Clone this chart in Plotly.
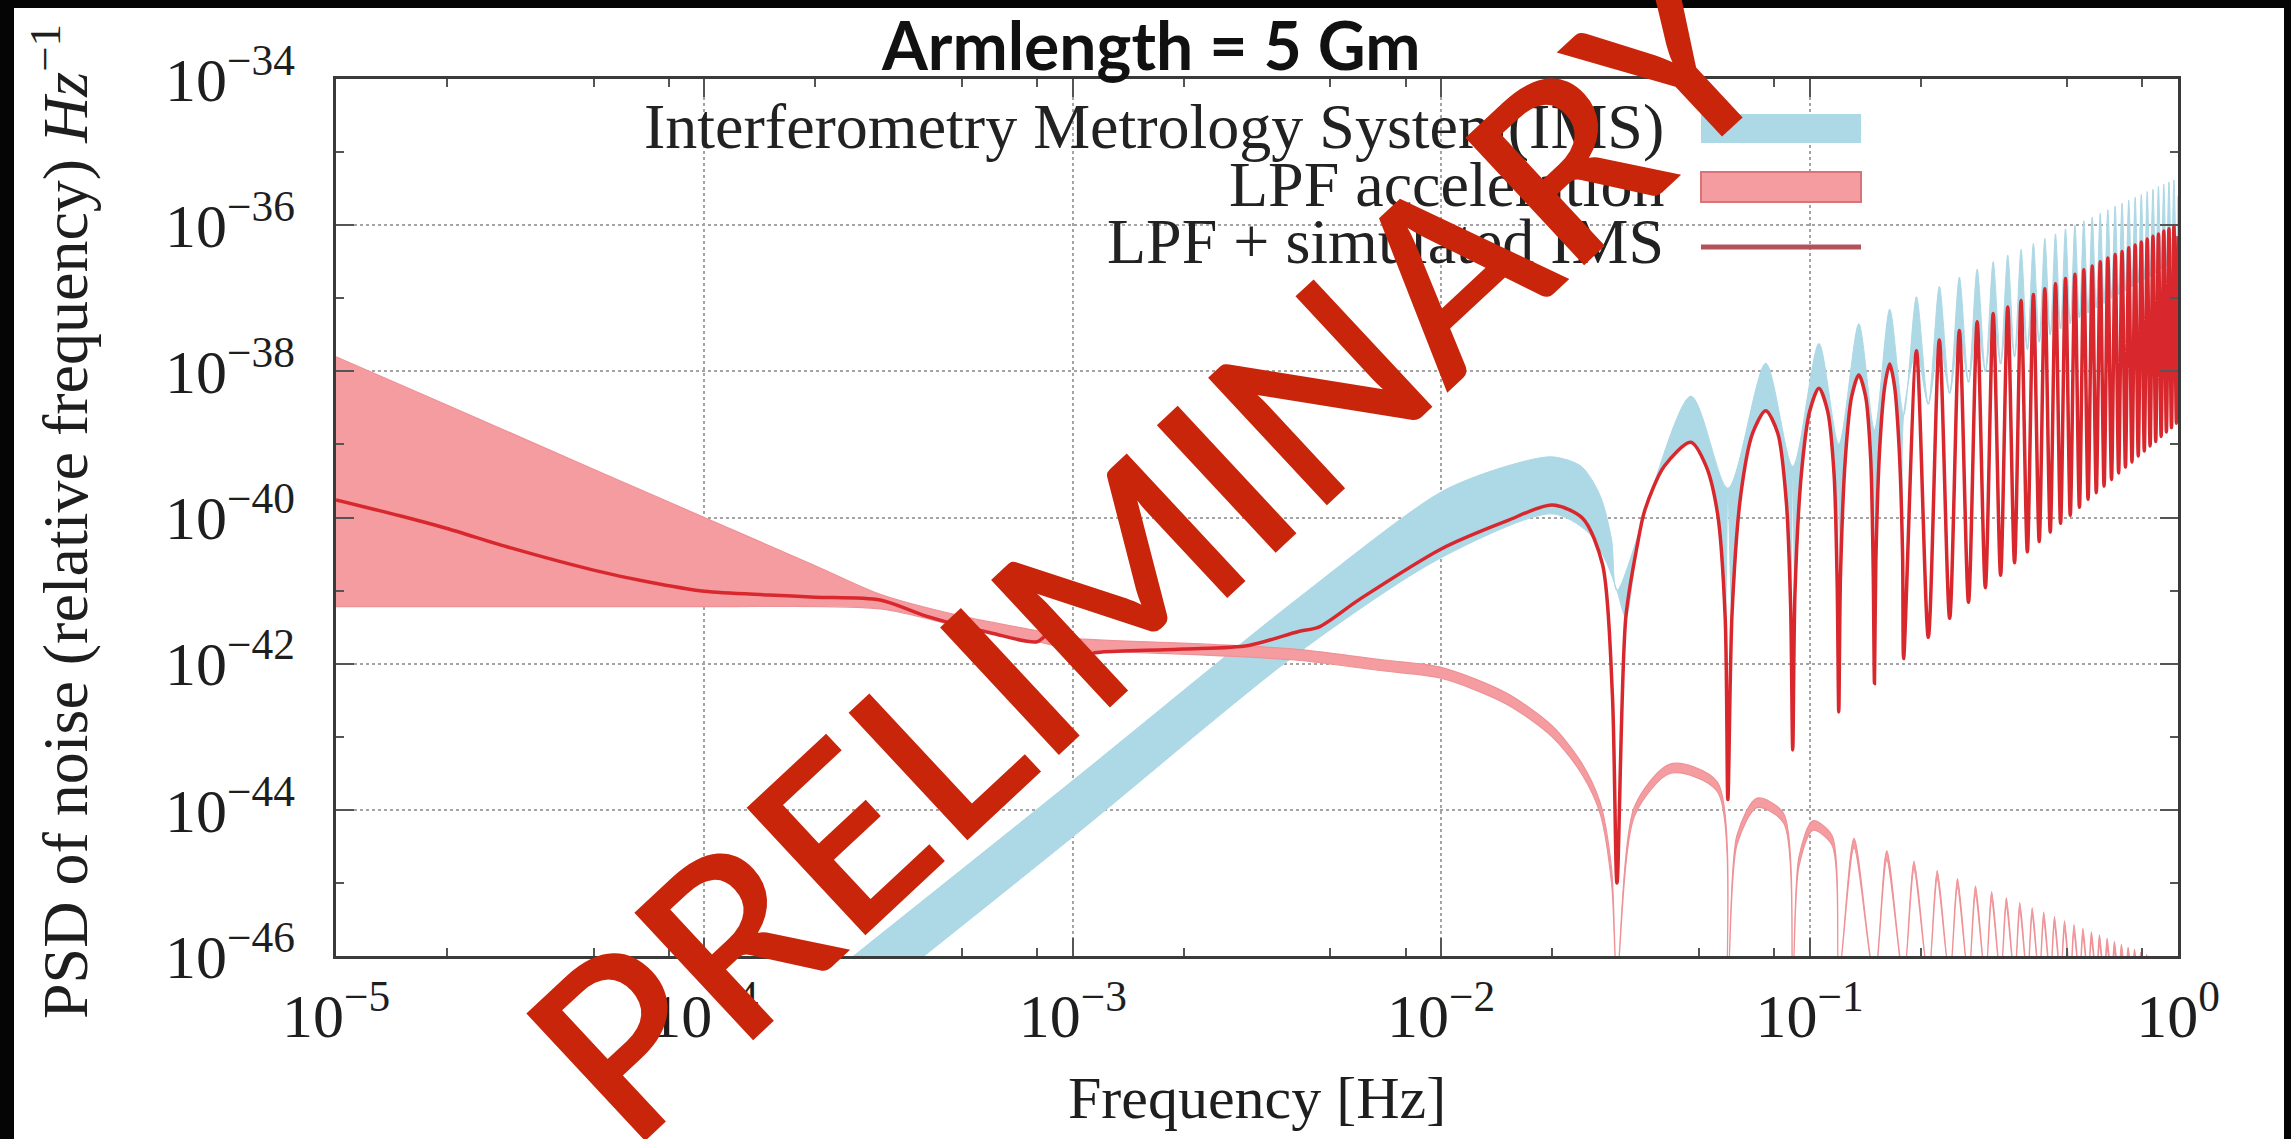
import plotly.graph_objects as go

# ---------------- canvas / layout geometry (pixels) ----------------
W, H = 2291, 1139
ML, MR, MT, MB = 336, 113, 79, 183
PW, PH = W - ML - MR, H - MT - MB


def px_x(px):
    return (px - ML) / PW


def px_y(py):
    return (H - MB - py) / PH


# ---------------- axis ticks ----------------
X_TICK_VALS = [1e-5, 1e-4, 1e-3, 1e-2, 1e-1, 1e0]
X_TICK_TEXT = ["10<sup>−5</sup>", "10<sup>−4</sup>", "10<sup>−3</sup>",
               "10<sup>−2</sup>", "10<sup>−1</sup>", "10<sup>0</sup>"]
X_MINOR_VALS = [2e-5, 5e-5, 8e-5, 2e-4, 5e-4, 8e-4, 2e-3, 5e-3, 8e-3,
                2e-2, 5e-2, 8e-2, 2e-1, 5e-1, 8e-1]
Y_TICK_VALS = [1e-46, 1e-44, 1e-42, 1e-40, 1e-38, 1e-36, 1e-34]
Y_TICK_TEXT = ["10<sup>−46</sup>", "10<sup>−44</sup>", "10<sup>−42</sup>",
               "10<sup>−40</sup>", "10<sup>−38</sup>", "10<sup>−36</sup>",
               "10<sup>−34</sup>"]
Y_MINOR_VALS = [1e-45, 1e-43, 1e-41, 1e-39, 1e-37, 1e-35]

# ---------------- arm-response nulls (Hz) ----------------
NULL_F = [0.03, 0.06, 0.09, 0.12, 0.15, 0.18, 0.21, 0.24, 0.27, 0.30, 0.33,
          0.36, 0.39, 0.42, 0.45, 0.48, 0.51, 0.54, 0.57, 0.60, 0.63, 0.66,
          0.69, 0.72, 0.75, 0.78, 0.81, 0.84, 0.87, 0.90, 0.93, 0.96, 0.99]
LOBE_PEAK_F = [0.0476, 0.076, 0.106, 0.136, 0.165, 0.195, 0.225, 0.255,
               0.285, 0.315, 0.345, 0.375, 0.405, 0.435, 0.465, 0.495, 0.525,
               0.555, 0.585, 0.615, 0.645, 0.675, 0.705, 0.735, 0.765, 0.795,
               0.825, 0.855, 0.885, 0.915, 0.945, 0.975]

# ---------------- LPF + simulated IMS (log10 PSD) ----------------
RED_LOW_F = [1e-5, 1.5e-5, 2e-5, 3e-5, 5e-5, 7e-5, 1e-4, 1.5e-4, 2e-4, 3e-4,
             4e-4, 6e-4, 8e-4, 8.8e-4, 9.5e-4, 1.02e-3, 1.2e-3, 2e-3, 3e-3,
             4.1e-3, 4.65e-3, 6e-3, 1e-2, 1.5e-2, 2e-2, 2.42e-2, 2.74e-2,
             2.915e-2]
RED_LOW_LOG = [-39.76, -39.98, -40.15, -40.42, -40.72, -40.88, -41.01, -41.06,
               -41.09, -41.13, -41.35, -41.58, -41.70, -41.55, -41.72, -41.87,
               -41.84, -41.80, -41.75, -41.56, -41.50, -41.12, -40.43, -40.05,
               -39.83, -40.01, -40.64, -42.42]
RED_NULL_LOG = [-45.00, -43.86, -43.18, -42.66, -42.27, -41.93, -41.64, -41.38,
                -41.16, -40.96, -40.79, -40.62, -40.47, -40.33, -40.20, -40.08,
                -39.97, -39.86, -39.75, -39.66, -39.57, -39.48, -39.39, -39.31,
                -39.24, -39.16, -39.09, -39.02, -38.96, -38.89, -38.83, -38.77,
                -38.71]
RED_PEAK_LOG = [-38.97, -38.54, -38.23, -38.05, -37.90, -37.72, -37.57, -37.44,
                -37.32, -37.21, -37.12, -37.03, -36.95, -36.87, -36.80, -36.73,
                -36.67, -36.61, -36.56, -36.50, -36.45, -36.40, -36.36, -36.31,
                -36.27, -36.23, -36.19, -36.15, -36.12, -36.08, -36.05, -36.01]
RED_SHOULDER_F = [0.0317, 0.0340, 0.0357, 0.0403, 0.0524, 0.0563, 0.0590,
                  0.0616, 0.0650, 0.0700, 0.0820, 0.0865, 0.0888,
                  0.0913, 0.0950, 0.1000, 0.1120, 0.1165, 0.1188,
                  0.1213, 0.1250, 0.1300, 0.1420, 0.1465, 0.1488,
                  0.1513, 0.1550, 0.1600, 0.1700, 0.1750, 0.1788]
RED_SHOULDER_LOG = [-41.37, -40.40, -39.90, -39.30, -39.30, -39.96, -41.37,
                    -41.30, -39.70, -38.85, -38.85, -39.80, -41.20,
                    -41.00, -39.40, -38.55, -38.55, -39.40, -40.90,
                    -40.80, -39.20, -38.35, -38.35, -39.20, -40.70,
                    -40.60, -39.05, -38.20, -38.20, -39.05, -40.50]
RED_END = (1.0, -36.15)

# ---------------- IMS band (log10 PSD) ----------------
BLUE_UP_F = [1.4e-4, 1e-3, 4.1e-3, 1e-2, 1.5e-2, 2e-2, 2.4e-2, 2.7e-2, 2.9e-2]
BLUE_UP_LOG = [-47.04, -43.60, -41.10, -39.65, -39.30, -39.17, -39.30, -39.70,
               -40.30]
BLUE_LO_F = [2.1e-4, 1e-3, 4.1e-3, 1e-2, 2e-2, 2.5e-2, 2.8e-2]
BLUE_LO_LOG = [-47.10, -44.37, -41.85, -40.55, -39.95, -40.20, -40.60]
BLUE_PEAK_LOG = [-38.34, -37.89, -37.62, -37.35, -37.15, -36.98, -36.84,
                 -36.71, -36.60, -36.50, -36.41, -36.33, -36.25, -36.18,
                 -36.12, -36.05, -36.00, -35.94, -35.89, -35.84, -35.79,
                 -35.74, -35.70, -35.66, -35.62, -35.58, -35.54, -35.51,
                 -35.47, -35.44, -35.41, -35.38]
BLUE_CUSP_LOG = [-41.00, -39.60, -39.30, -39.00, -38.80, -38.60, -38.45,
                 -38.30, -38.15, -38.00, -37.90, -37.80, -37.70, -37.60,
                 -37.50, -37.42, -37.35, -37.27, -37.20, -37.13, -37.07,
                 -37.00, -36.95, -36.90, -36.84, -36.79, -36.74, -36.70,
                 -36.65, -36.60, -36.56, -36.52, -36.48]
BLUE_END = (1.0, -35.60)

# ---------------- LPF acceleration band (log10 PSD) ----------------
PINK_UP_F = [1e-5, 2e-5, 5e-5, 1e-4, 2e-4, 3e-4, 5e-4, 8e-4, 1e-3, 2e-3, 4e-3,
             7e-3, 1e-2, 1.5e-2, 2e-2, 2.4e-2, 2.7e-2, 2.9e-2]
PINK_UP_LOG = [-37.80, -38.46, -39.34, -40.00, -40.66, -41.05, -41.35, -41.55,
               -41.65, -41.72, -41.80, -41.95, -42.05, -42.40, -42.85, -43.35,
               -43.90, -44.80]
PINK_LO_F = [1e-5, 1e-4, 3e-4, 5e-4, 8e-4, 1e-3, 2e-3, 4e-3, 7e-3, 1e-2,
             1.5e-2, 2e-2, 2.4e-2, 2.7e-2, 2.9e-2]
PINK_LO_LOG = [-41.22, -41.22, -41.25, -41.50, -41.70, -41.80, -41.87, -41.95,
               -42.10, -42.20, -42.55, -43.00, -43.50, -44.05, -45.00]
PINK_PEAK_F = [0.042, 0.072, 0.102, 0.132, 0.162, 0.192, 0.222, 0.252, 0.282,
               0.312, 0.342, 0.372, 0.402, 0.432, 0.462, 0.492, 0.522, 0.552,
               0.582, 0.612, 0.642, 0.672, 0.702, 0.732, 0.762, 0.792, 0.822]
PINK_PEAK_LOG = [-43.37, -43.84, -44.15, -44.39, -44.56, -44.70, -44.83,
                 -44.94, -45.04, -45.12, -45.20, -45.27, -45.34, -45.40,
                 -45.46, -45.52, -45.57, -45.62, -45.67, -45.71, -45.76,
                 -45.80, -45.84, -45.88, -45.91, -45.95, -45.98]
PINK_PEAK_LO_LOG = [-43.50, -43.97, -44.28, -44.52, -44.69, -44.83, -44.96,
                    -45.07, -45.17, -45.25, -45.33, -45.40, -45.47, -45.53,
                    -45.59, -45.65, -45.70, -45.75, -45.80, -45.84, -45.89,
                    -45.93, -45.97, -46.01, -46.04, -46.08, -46.11]
PINK_SHOULDER_F = [0.0335, 0.0562, 0.0635, 0.0850, 0.0935, 0.1150]
PINK_SHOULDER_LOG = [-43.95, -43.62, -44.35, -44.05, -44.65, -44.35]
PINK_SHOULDER_LO_LOG = [-44.08, -43.75, -44.48, -44.18, -44.78, -44.48]
PINK_NULL_LOG = -46.3  # nulls dip just below the bottom of the axis

# ---------------- colours ----------------
BLUE = "#add8e6"
PINK = "#f59ca1"
PINK_EDGE = "#ee9297"
RED = "#d8282e"
WATERMARK = "#c8250b"
SERIF = "Liberation Serif"


def to_lin(logs):
    return [10.0 ** v for v in logs]


# ---- LPF + simulated IMS line: smooth part, then lobes between nulls ----
red_pts = list(zip(RED_LOW_F, RED_LOW_LOG))
red_pts += list(zip(NULL_F, RED_NULL_LOG))
red_pts += list(zip(LOBE_PEAK_F, RED_PEAK_LOG))
red_pts += list(zip(RED_SHOULDER_F, RED_SHOULDER_LOG))
red_pts.append(RED_END)
red_pts.sort()
red_x = [p[0] for p in red_pts]
red_y = to_lin([p[1] for p in red_pts])

# ---- IMS band outline: upper edge forward, lower edge (under the red
# line) backward; the two edges pinch together at each null ----
blue_upper = list(zip(BLUE_UP_F, BLUE_UP_LOG))
blue_lower = list(zip(BLUE_LO_F, BLUE_LO_LOG))
for i, f0 in enumerate(NULL_F):
    blue_upper.append((f0, BLUE_CUSP_LOG[i]))
    blue_lower.append((f0, BLUE_CUSP_LOG[i]))
    if i < len(LOBE_PEAK_F):
        blue_upper.append((LOBE_PEAK_F[i], BLUE_PEAK_LOG[i]))
        blue_lower.append((LOBE_PEAK_F[i], RED_PEAK_LOG[i]))
blue_lower += list(zip(RED_SHOULDER_F, RED_SHOULDER_LOG))
blue_upper.append(BLUE_END)
blue_lower.append(RED_END)
blue_upper.sort()
blue_lower.sort()
blue_poly = blue_upper + blue_lower[::-1]
blue_x = [p[0] for p in blue_poly]
blue_y = to_lin([p[1] for p in blue_poly])

# ---- LPF acceleration band outline ----
pink_upper = list(zip(PINK_UP_F, PINK_UP_LOG))
pink_lower = list(zip(PINK_LO_F, PINK_LO_LOG))
for i, pf in enumerate(PINK_PEAK_F):
    pink_upper.append((NULL_F[i], PINK_NULL_LOG))
    pink_lower.append((NULL_F[i], PINK_NULL_LOG))
    pink_upper.append((pf, PINK_PEAK_LOG[i]))
    pink_lower.append((pf, PINK_PEAK_LO_LOG[i]))
pink_upper += list(zip(PINK_SHOULDER_F, PINK_SHOULDER_LOG))
pink_lower += list(zip(PINK_SHOULDER_F, PINK_SHOULDER_LO_LOG))
pink_upper.append((NULL_F[len(PINK_PEAK_F)], PINK_NULL_LOG))
pink_lower.append((NULL_F[len(PINK_PEAK_F)], PINK_NULL_LOG))
pink_upper.sort()
pink_lower.sort()
pink_poly = pink_upper + pink_lower[::-1]
pink_x = [p[0] for p in pink_poly]
pink_y = to_lin([p[1] for p in pink_poly])

fig = go.Figure()
fig.add_trace(go.Scatter(
    x=blue_x, y=blue_y, mode="lines", fill="toself", fillcolor=BLUE,
    line=dict(color=BLUE, width=1, shape="spline", smoothing=0.8),
    hoverinfo="skip", showlegend=False))
fig.add_trace(go.Scatter(
    x=pink_x, y=pink_y, mode="lines", fill="toself", fillcolor=PINK,
    line=dict(color=PINK_EDGE, width=1.2, shape="spline", smoothing=0.8),
    hoverinfo="skip", showlegend=False))
fig.add_trace(go.Scatter(
    x=red_x, y=red_y, mode="lines",
    line=dict(color=RED, width=3.5, shape="spline", smoothing=0.8),
    hoverinfo="skip", showlegend=False))

axis_common = dict(
    type="log", showline=True, linecolor="#3a3a3a", linewidth=2.5,
    mirror="ticks", ticks="inside", ticklen=18, tickwidth=2,
    tickcolor="#555555", showgrid=True, gridcolor="#a4a4a4", gridwidth=1.8,
    griddash="dot", zeroline=False, layer="above traces",
    tickfont=dict(family=SERIF, size=62, color="#1e1e1e"),
)
fig.update_xaxes(
    range=[-5, 0], tickmode="array", tickvals=X_TICK_VALS,
    ticktext=X_TICK_TEXT, ticklabelstandoff=4,
    minor=dict(tickmode="array", tickvals=X_MINOR_VALS, ticks="inside",
               ticklen=8, tickwidth=2, tickcolor="#555555", showgrid=False),
    **axis_common)
fig.update_yaxes(
    range=[-46, -34], tickmode="array", tickvals=Y_TICK_VALS,
    ticktext=Y_TICK_TEXT, ticklabelstandoff=26,
    minor=dict(tickmode="array", tickvals=Y_MINOR_VALS, ticks="inside",
               ticklen=8, tickwidth=2, tickcolor="#555555", showgrid=False),
    **axis_common)

shapes = [
    # white sheet inside the dark frame
    dict(type="rect", xref="paper", yref="paper", layer="below",
         x0=px_x(14), x1=px_x(2284), y0=px_y(H + 5), y1=px_y(8),
         fillcolor="white", line=dict(width=0)),
    # legend samples
    dict(type="rect", xref="paper", yref="paper",
         x0=px_x(1701), x1=px_x(1861), y0=px_y(143), y1=px_y(114),
         fillcolor=BLUE, line=dict(width=0)),
    dict(type="rect", xref="paper", yref="paper",
         x0=px_x(1701), x1=px_x(1861), y0=px_y(202), y1=px_y(172),
         fillcolor=PINK, line=dict(color="#d9737a", width=2)),
    dict(type="line", xref="paper", yref="paper",
         x0=px_x(1701), x1=px_x(1861), y0=px_y(247), y1=px_y(247),
         line=dict(color="#b4525a", width=5)),
]

legend_rows = [
    ("Interferometry Metrology System(IMS)", 127),
    ("LPF acceleration", 184),
    ("LPF + simulated IMS", 241),
]
annotations = []
for text, yc in legend_rows:
    annotations.append(dict(
        text=text, xref="paper", yref="paper", x=px_x(1666), y=px_y(yc),
        xanchor="right", yanchor="middle", showarrow=False,
        font=dict(family=SERIF, size=64, color="#222222")))

annotations += [
    dict(text="Armlength = 5 Gm", xref="paper", yref="paper",
         x=px_x(1151), y=px_y(44), xanchor="center", yanchor="middle",
         showarrow=False,
         font=dict(family="Lato", size=66, color="#111111", weight="bold")),
    dict(text="Frequency [Hz]", xref="paper", yref="paper",
         x=px_x(1257), y=px_y(1098), xanchor="center", yanchor="middle",
         showarrow=False, font=dict(family=SERIF, size=60, color="#1e1e1e")),
    dict(text="PSD of noise (relative frequency) <i>Hz</i><sup>−1</sup>",
         xref="paper", yref="paper", x=px_x(60), y=px_y(522),
         xanchor="center", yanchor="middle", textangle=-90, showarrow=False,
         font=dict(family=SERIF, size=64, color="#1e1e1e")),
    dict(text="PRELIMINARY", xref="paper", yref="paper",
         x=px_x(1145), y=px_y(546), xanchor="center", yanchor="middle",
         textangle=-43, showarrow=False,
         font=dict(family="Lato", size=242, color=WATERMARK, weight=600)),
]

fig.update_layout(
    width=W, height=H, margin=dict(l=ML, r=MR, t=MT, b=MB),
    paper_bgcolor="#050505", plot_bgcolor="white",
    shapes=shapes, annotations=annotations, showlegend=False,
)

fig.write_html("out.html")
